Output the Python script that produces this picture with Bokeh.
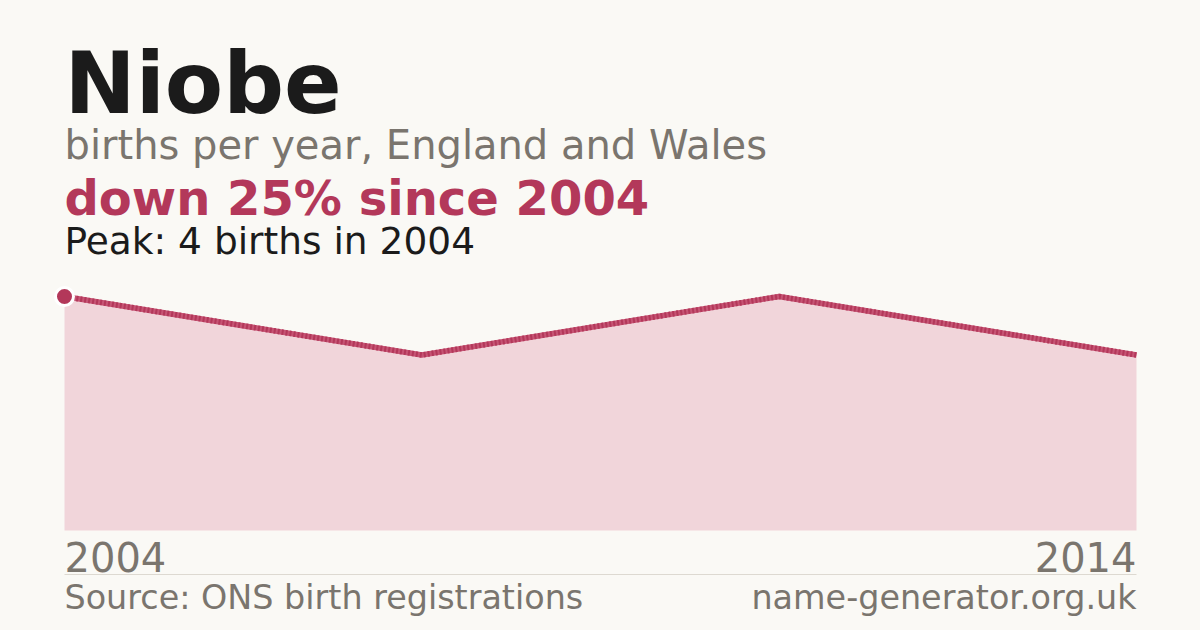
from bokeh.plotting import figure
from bokeh.models import Label, Range1d, BoxAnnotation, ColumnDataSource
from bokeh.embed import file_html
from bokeh.resources import INLINE

# ---- data ----
point_index = [0, 1, 2, 3]
births = [4, 3, 4, 3]
first_year = "2004"
last_year = "2014"
name = "Niobe"
subtitle = "births per year, England and Wales"
change_text = "down 25% since 2004"
peak_text = "Peak: 4 births in 2004"
source_text = "Source: ONS birth registrations"
site_text = "name-generator.org.uk"

# ---- style ----
BG = "#FAF9F5"
RED = "#B3385A"
FILL = "#F1D5DA"
GREY = "#7A756E"
INK = "#1B1B1B"
FONT = "DejaVu Sans"

W, H = 1200, 630
PLOT_L, PLOT_R = 64, 1136          # canvas px
BASE_FROM_BOTTOM = 100             # y=0 position from bottom
PX_PER_UNIT = 58.5

px_per_x = (PLOT_R - PLOT_L) / (len(point_index) - 1)
x_start = -PLOT_L / px_per_x
x_end = (len(point_index) - 1) + (W - PLOT_R) / px_per_x
y_start = -BASE_FROM_BOTTOM / PX_PER_UNIT
y_end = (H - BASE_FROM_BOTTOM) / PX_PER_UNIT

p = figure(width=W, height=H, output_backend="svg", toolbar_location=None,
           x_range=Range1d(x_start, x_end), y_range=Range1d(y_start, y_end),
           min_border=0, min_border_left=0, min_border_right=0,
           min_border_top=0, min_border_bottom=0)
p.axis.visible = False
p.grid.visible = False
p.outline_line_color = None
p.background_fill_color = BG
p.border_fill_color = BG

src = ColumnDataSource(dict(x=point_index, y=births, y0=[0] * len(births)))
p.varea(x="x", y1="y0", y2="y", source=src, fill_color=FILL)
p.line(x="x", y="y", source=src, line_color="#C65474", line_width=5.5)
p.line(x="x", y="y", source=src, line_color=RED, line_width=5.5, line_dash="2 2")
p.scatter(x=[point_index[0]], y=[births[0]], size=18, fill_color=RED,
          line_color="white", line_width=3)

def lab(text, x, y, size, color, bold=False, align="left"):
    # y is the wanted baseline (px from bottom); compensate renderer offset
    p.add_layout(Label(x=x, y=y + 0.35 * size, x_units="screen", y_units="screen",
                       text=text, text_font=FONT, text_font_size=f"{size}px",
                       text_font_style="bold" if bold else "normal",
                       text_color=color, text_align=align,
                       text_baseline="alphabetic"))

lab(name, PLOT_L, H - 113, 85, INK, bold=True)
lab(subtitle, PLOT_L, H - 158, 40, GREY)
lab(change_text, PLOT_L, H - 214, 48, RED, bold=True)
lab(peak_text, PLOT_L, H - 254, 37.5, INK)
lab(first_year, PLOT_L, H - 570, 40, GREY)
lab(last_year, PLOT_R, H - 570, 40, GREY, align="right")
lab(source_text, PLOT_L, H - 609, 33.4, GREY)
lab(site_text, PLOT_R, H - 609, 33.4, GREY, align="right")

p.add_layout(BoxAnnotation(left=PLOT_L, right=PLOT_R, bottom=H - 574.5, top=H - 573.5,
                           left_units="screen", right_units="screen",
                           bottom_units="screen", top_units="screen",
                           fill_color="#DDD9D1", fill_alpha=1, line_color=None))

html = file_html(p, INLINE)
html = html.replace("<head>", "<head><style>body{background:#FAF9F5;}</style>", 1)
open("out.html", "w").write(html)
